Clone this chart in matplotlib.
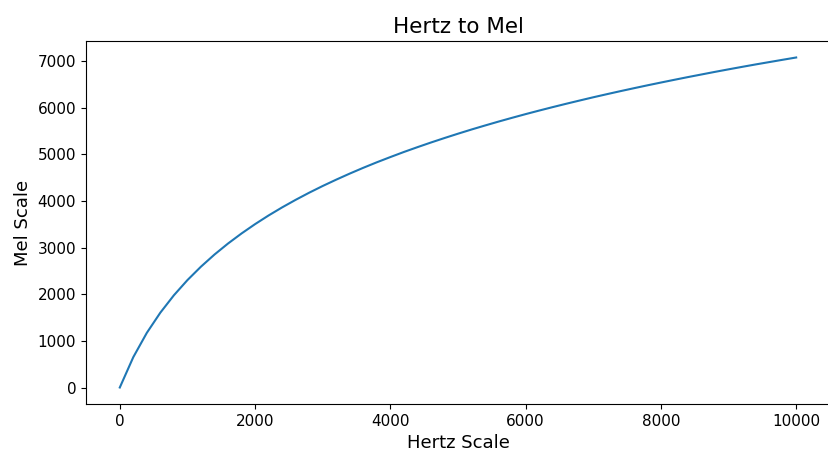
import matplotlib
matplotlib.use("Agg")
import matplotlib.pyplot as plt

# Frequency samples (Hz) and their values on the mel scale
hertz = [0, 200, 400, 600, 800, 1000, 1200, 1400, 1600, 1800,
         2000, 2200, 2400, 2600, 2800, 3000, 3200, 3400, 3600, 3800,
         4000, 4200, 4400, 4600, 4800, 5000, 5200, 5400, 5600, 5800,
         6000, 6200, 6400, 6600, 6800, 7000, 7200, 7400, 7600, 7800,
         8000, 8200, 8400, 8600, 8800, 9000, 9200, 9400, 9600, 9800,
         10000]
mel = [0, 652, 1173, 1606, 1978, 2303, 2591, 2851, 3087, 3303,
       3503, 3689, 3862, 4024, 4177, 4321, 4457, 4587, 4711, 4829,
       4941, 5050, 5153, 5253, 5349, 5442, 5532, 5618, 5702, 5783,
       5862, 5938, 6012, 6084, 6154, 6223, 6289, 6354, 6417, 6479,
       6539, 6598, 6656, 6712, 6768, 6822, 6875, 6927, 6977, 7027,
       7076]

fig = plt.figure(figsize=(8.29, 4.5), dpi=100)
ax = fig.add_axes([0.1037, 0.1022, 0.8975, 0.8067])
ax.plot(hertz, mel, color="#1f77b4", linewidth=1.5)

# the frame runs past the right edge of the canvas
ax.spines["right"].set_visible(False)

ax.set_title("Hertz to Mel", fontsize=15.5)
ax.set_xlabel("Hertz Scale", fontsize=13)
ax.set_ylabel("Mel Scale", fontsize=13)
ax.tick_params(labelsize=11)
ax.set_xticks([0, 2000, 4000, 6000, 8000, 10000])
ax.set_yticks([0, 1000, 2000, 3000, 4000, 5000, 6000, 7000])

fig.savefig("out.png", dpi=100)
